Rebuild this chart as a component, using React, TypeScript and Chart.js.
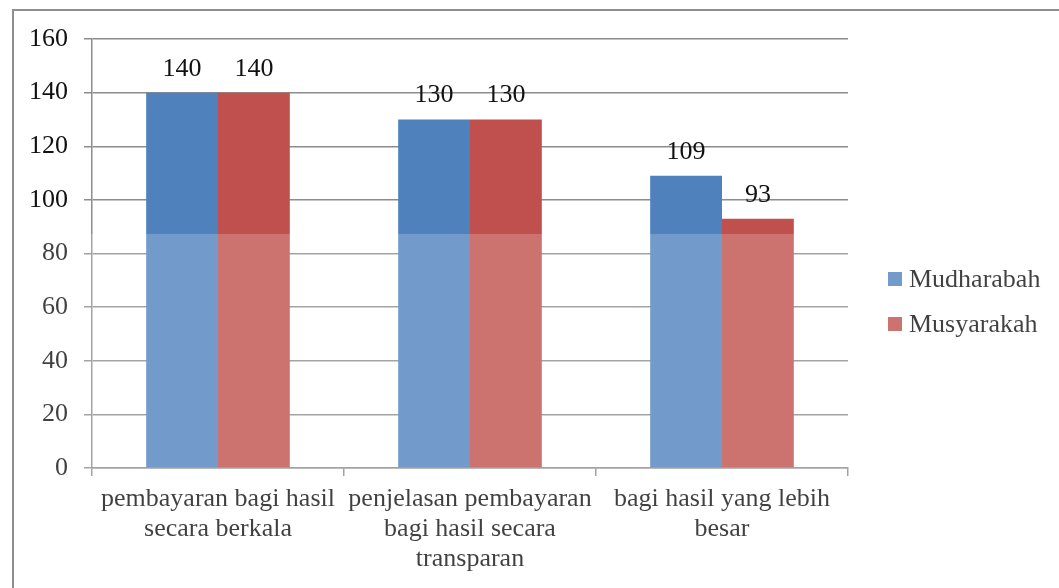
import React, { useEffect, useRef } from "react";
import { Chart, registerables } from "chart.js";

Chart.register(...registerables);

const categories: string[][] = [
  ["pembayaran bagi hasil", "secara berkala"],
  ["penjelasan pembayaran", "bagi hasil secara", "transparan"],
  ["bagi hasil yang lebih", "besar"],
];
const seriesNames = ["Mudharabah", "Musyarakah"];
const mudharabah = [140, 130, 109];
const musyarakah = [140, 130, 93];
const yTicks = [0, 20, 40, 60, 80, 100, 120, 140, 160];

const BLUE = "#4F81BD";
const RED = "#C0504D";
const FONT = "'Liberation Serif', 'Times New Roman', serif";
const TEXT = "#111111";
const GRID = "#8c8c8c";

const dataLabelPlugin = {
  id: "dataLabels",
  afterDatasetsDraw(chart: any) {
    const ctx = chart.ctx;
    ctx.save();
    ctx.font = `26px ${FONT}`;
    ctx.fillStyle = TEXT;
    ctx.textAlign = "center";
    ctx.textBaseline = "alphabetic";
    chart.data.datasets.forEach((ds: any, di: number) => {
      const meta = chart.getDatasetMeta(di);
      meta.data.forEach((bar: any, i: number) => {
        ctx.fillText(String(ds.data[i]), bar.x, bar.y - 17);
      });
    });
    ctx.restore();
  },
};

const legendPlugin = {
  id: "customLegend",
  afterDraw(chart: any) {
    const ctx = chart.ctx;
    const x = chart.chartArea.right + 40;
    const mid = chart.height / 2;
    ctx.save();
    ctx.font = `26px ${FONT}`;
    ctx.textBaseline = "middle";
    ctx.textAlign = "left";
    chart.data.datasets.forEach((ds: any, i: number) => {
      const cy = mid - 15 + i * 45;
      ctx.fillStyle = ds.backgroundColor;
      ctx.fillRect(x, cy - 7, 14, 14);
      ctx.fillStyle = TEXT;
      ctx.fillText(ds.label, x + 21, cy + 1);
    });
    ctx.restore();
  },
};

// faded lower band from the scanned page
const fadePlugin = {
  id: "fade",
  afterDraw(chart: any) {
    const ctx = chart.ctx;
    ctx.save();
    ctx.fillStyle = "rgba(255,255,255,0.2)";
    ctx.fillRect(0, 234, chart.width, chart.height - 234);
    ctx.restore();
  },
};

export default function App() {
  const ref = useRef<HTMLCanvasElement | null>(null);
  useEffect(() => {
    document.body.style.margin = "0";
    document.body.style.overflow = "hidden";
    const canvas = ref.current!;
    const chart = new Chart(canvas, {
      type: "bar",
      data: {
        labels: categories,
        datasets: [
          {
            label: seriesNames[0],
            data: mudharabah,
            backgroundColor: BLUE,
            barPercentage: 1,
            categoryPercentage: 0.57,
          },
          {
            label: seriesNames[1],
            data: musyarakah,
            backgroundColor: RED,
            barPercentage: 1,
            categoryPercentage: 0.57,
          },
        ],
      },
      options: {
        responsive: false,
        animation: false,
        layout: { padding: { top: 39, right: 211, left: 0, bottom: 0 } },
        plugins: {
          legend: { display: false },
          tooltip: { enabled: false },
        },
        scales: {
          x: {
            grid: {
              drawOnChartArea: false,
              drawTicks: true,
              tickLength: 8,
              color: GRID,
              lineWidth: 1.5,
              offset: true,
            },
            border: { color: GRID, width: 1.5 },
            ticks: {
              color: TEXT,
              font: { family: FONT, size: 26, lineHeight: 1.16 },
              padding: 8,
              maxRotation: 0,
              autoSkip: false,
            },
            afterFit(scale: any) {
              scale.height = 120;
            },
          },
          y: {
            min: 0,
            max: 160,
            afterBuildTicks(scale: any) {
              scale.ticks = yTicks.map((v) => ({ value: v }));
            },
            grid: {
              color: GRID,
              lineWidth: 1.5,
              tickLength: 8,
              drawTicks: true,
            },
            border: { color: GRID, width: 1.5 },
            ticks: {
              color: TEXT,
              font: { family: FONT, size: 26 },
              padding: 16,
            },
            afterFit(scale: any) {
              scale.width = 92;
            },
          },
        },
      },
      plugins: [dataLabelPlugin, legendPlugin, fadePlugin],
    });
    return () => chart.destroy();
  }, []);

  return (
    <div>
      <canvas
        ref={ref}
        width={1059}
        height={588}
        style={{ position: "fixed", left: 0, top: 0, width: 1059, height: 588 }}
      />
      <div
        style={{
          position: "fixed",
          left: 12,
          top: 9,
          width: 1100,
          height: 640,
          border: "2px solid #8f8f8f",
          boxSizing: "border-box",
          pointerEvents: "none",
        }}
      />
    </div>
  );
}
